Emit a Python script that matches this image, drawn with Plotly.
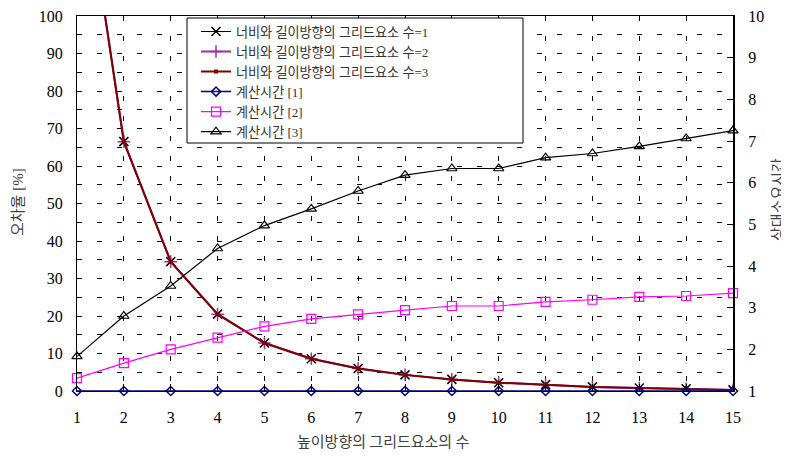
import plotly.graph_objects as go

x_vals = list(range(1, 16))

err_1 = [150, 66.5, 34.5, 20.5, 12.8, 8.6, 6.0, 4.3, 3.1, 2.2, 1.7, 1.1, 0.8, 0.6, 0.3]
err_2 = [150, 66.5, 34.5, 20.5, 12.8, 8.6, 6.0, 4.3, 3.1, 2.2, 1.7, 1.1, 0.8, 0.6, 0.3]
err_3 = [150, 66.5, 34.5, 20.5, 12.8, 8.6, 6.0, 4.3, 3.1, 2.2, 1.7, 1.1, 0.8, 0.6, 0.3]

time_1 = [1, 1, 1, 1, 1, 1, 1, 1, 1, 1, 1, 1, 1, 1, 1]
time_2 = [1.31, 1.67, 2.0, 2.28, 2.55, 2.73, 2.84, 2.94, 3.04, 3.04, 3.14, 3.19, 3.26, 3.28, 3.35]
time_3 = [1.83, 2.8, 3.52, 4.42, 4.97, 5.37, 5.8, 6.18, 6.34, 6.34, 6.6, 6.7, 6.87, 7.06, 7.25]

names = [
    "너비와 길이방향의 그리드요소 수=1",
    "너비와 길이방향의 그리드요소 수=2",
    "너비와 길이방향의 그리드요소 수=3",
    "계산시간 [1]",
    "계산시간 [2]",
    "계산시간 [3]",
]

SERIF = "Liberation Serif"
FONT = "Liberation Serif, Noto Sans CJK KR, serif"
KFONT = "Noto Sans CJK KR, sans-serif"

fig = go.Figure()

fig.add_trace(go.Scatter(x=x_vals, y=err_1, name=names[0], mode="lines+markers",
                         line=dict(color="black", width=1),
                         marker=dict(symbol="x-thin-open", size=9, color="black",
                                     line=dict(color="black", width=1.5))))
fig.add_trace(go.Scatter(x=x_vals, y=err_2, name=names[1], mode="lines+markers",
                         line=dict(color="#993399", width=2),
                         marker=dict(symbol="cross-thin-open", size=9, color="#993399",
                                     line=dict(color="#993399", width=1.5))))
fig.add_trace(go.Scatter(x=x_vals, y=err_3, name=names[2], mode="lines+markers",
                         line=dict(color="#800000", width=2),
                         marker=dict(symbol="square", size=4, color="#800000")))

fig.add_trace(go.Scatter(x=x_vals, y=time_1, name=names[3], mode="lines+markers", yaxis="y2",
                         cliponaxis=False,
                         line=dict(color="#000080", width=1.5),
                         marker=dict(symbol="diamond-open", size=7, color="#000080",
                                     line=dict(color="#000080", width=1.5))))
fig.add_trace(go.Scatter(x=x_vals, y=time_2, name=names[4], mode="lines+markers", yaxis="y2",
                         cliponaxis=False,
                         line=dict(color="#ff00ff", width=1.2),
                         marker=dict(symbol="square-open", size=9, color="#ff00ff",
                                     line=dict(color="#ff00ff", width=1.2))))
fig.add_trace(go.Scatter(x=x_vals, y=time_3, name=names[5], mode="lines+markers", yaxis="y2",
                         cliponaxis=False,
                         line=dict(color="black", width=1.2),
                         marker=dict(symbol="triangle-up-open", size=9, color="black",
                                     line=dict(color="black", width=1.2))))

grid_dash = "5px,15px"
# page is offset by the 8px body margin; work in figure pixels
W, H = 781, 449
L, R, T, B = 69, 725, 8, 383
PW, PH = R - L, B - T


def px(xp):
    return (xp - L) / PW


def py(yp):
    return (B - yp) / PH


fig.update_layout(
    width=W, height=H,
    margin=dict(l=L, r=W - R, t=T, b=H - B, autoexpand=False),
    paper_bgcolor="white", plot_bgcolor="white",
    font=dict(family=FONT, size=16, color="black"),
    showlegend=True,
    legend=dict(x=px(188), y=py(8.5), xanchor="left", yanchor="top",
                bgcolor="rgba(0,0,0,0)", borderwidth=0,
                font=dict(family=FONT, size=13.1, color="#333333"),
                tracegroupgap=0, itemwidth=30),
    shapes=[dict(type="rect", xref="paper", yref="paper",
                 x0=px(179), x1=px(515), y0=py(135), y1=py(10),
                 line=dict(color="black", width=1), fillcolor="white", layer="above")],
    xaxis=dict(range=[1, 15], dtick=1, tick0=1, showline=True, linecolor="black", linewidth=1,
               mirror=True, ticks="inside", ticklen=7, tickcolor="black",
               showgrid=True, gridcolor="black", gridwidth=1, griddash=grid_dash,
               zeroline=False, ticklabelstandoff=12, automargin=False,
               tickfont=dict(family=SERIF, size=16, color="black")),
    yaxis=dict(range=[0, 100], dtick=10, showline=True, linecolor="black", linewidth=1,
               ticks="inside", ticklen=5, tickcolor="black",
               showgrid=True, gridcolor="black", gridwidth=1, griddash=grid_dash,
               minor=dict(dtick=5, showgrid=True, gridcolor="black", gridwidth=1, griddash=grid_dash),
               zeroline=False, ticklabelstandoff=10, automargin=False,
               ticklabeloverflow="allow",
               tickfont=dict(family=SERIF, size=16, color="black")),
    yaxis2=dict(range=[1, 10], dtick=1, overlaying="y", side="right",
                showline=True, linecolor="black", linewidth=2,
                ticks="inside", ticklen=6, tickcolor="black",
                showgrid=False, zeroline=False, ticklabelstandoff=10, automargin=False,
                ticklabeloverflow="allow",
                tickfont=dict(family=SERIF, size=16, color="black")),
    annotations=[
        dict(text="높이방향의 그리드요소의 수", xref="paper", yref="paper",
             x=px(375), y=py(432), xanchor="center", yanchor="middle",
             showarrow=False, font=dict(family=KFONT, size=15, color="#404040")),
        dict(text="오차율 [%]", xref="paper", yref="paper",
             x=px(10), y=py(194), xanchor="center", yanchor="middle",
             textangle=-90, showarrow=False, font=dict(family=FONT, size=15, color="#404040")),
        dict(text="상대소요시간", xref="paper", yref="paper",
             x=px(768), y=py(191), xanchor="center", yanchor="middle",
             textangle=-90, showarrow=False, font=dict(family=KFONT, size=15, color="#404040")),
    ],
)

fig.write_html("out.html")
